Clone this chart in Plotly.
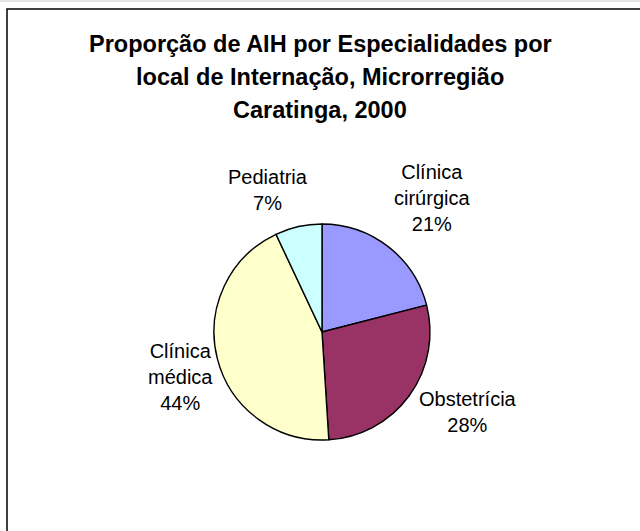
import plotly.graph_objects as go

# ---- data ----
categories = ["Clínica cirúrgica", "Obstetrícia", "Clínica médica", "Pediatria"]
percent_values = [21, 28, 44, 7]
title_lines = [
    "Proporção de AIH por Especialidades por",
    "local de Internação, Microrregião",
    "Caratinga, 2000",
]

# ---- style / layout ----
slice_colors = ["#9999FF", "#993366", "#FFFFCC", "#CCFFFF"]
W, H = 640, 531
label_centers_px = [(432, 198), (468, 412), (180, 377), (268, 190)]
title_centers_px = [44, 77, 110]
pie_center_px = (322, 332)
pie_radius_px = 108

fig = go.Figure()
cx, cy = pie_center_px
fig.add_trace(go.Pie(
    labels=categories,
    values=percent_values,
    sort=False,
    direction="clockwise",
    rotation=0,
    marker=dict(colors=slice_colors, line=dict(color="black", width=1.4)),
    textinfo="none",
    hoverinfo="label+percent",
    showlegend=False,
    domain=dict(
        x=[(cx - pie_radius_px) / W, (cx + pie_radius_px) / W],
        y=[1 - (cy + pie_radius_px) / H, 1 - (cy - pie_radius_px) / H],
    ),
))

total = sum(percent_values)
annotations = []
for name, val, (lx, ly) in zip(categories, percent_values, label_centers_px):
    pct = round(100 * val / total)
    annotations.append(dict(
        text=name.replace(" ", "<br>") + f"<br>{pct}%",
        x=lx / W, y=1 - ly / H, xref="paper", yref="paper",
        xanchor="center", yanchor="middle", showarrow=False,
        font=dict(family="Liberation Sans, Arial", size=20, color="black"),
        align="center",
    ))
for line, ty in zip(title_lines, title_centers_px):
    annotations.append(dict(
        text=f"<b>{line}</b>",
        x=0.5, y=1 - ty / H, xref="paper", yref="paper",
        xanchor="center", yanchor="middle", showarrow=False,
        font=dict(family="Liberation Sans, Arial", size=23.5, color="black"),
    ))

fig.update_layout(
    width=W, height=H,
    margin=dict(l=0, r=0, t=0, b=0),
    paper_bgcolor="white", plot_bgcolor="white",
    annotations=annotations,
    shapes=[
        dict(type="line", xref="paper", yref="paper", x0=0, x1=1,
             y0=1 - 1 / H, y1=1 - 1 / H, line=dict(color="#C8C8C8", width=1)),
        dict(type="rect", xref="paper", yref="paper",
             x0=7 / W, x1=1.05, y0=-0.05, y1=1 - 9 / H,
             line=dict(color="black", width=1.5)),
    ],
)

fig.write_html(
    "out.html",
    config={"displayModeBar": False},
    post_script="document.body.style.margin='0';document.body.style.overflow='hidden';",
)
